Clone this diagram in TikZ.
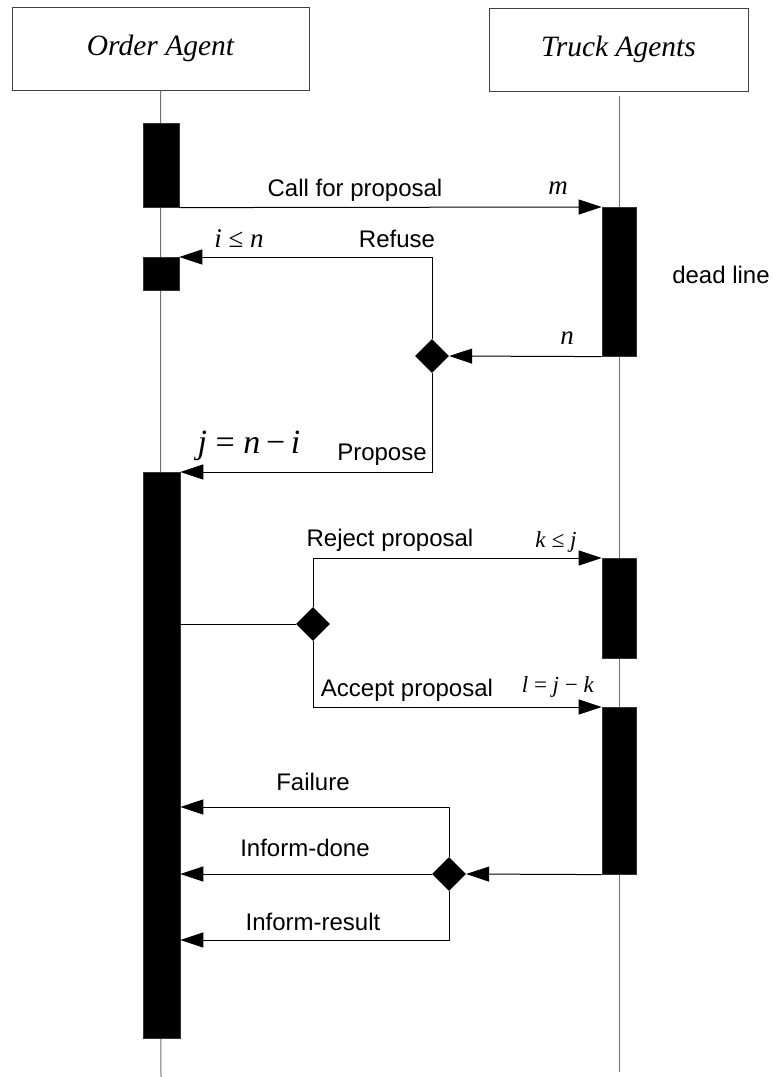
\documentclass[tikz,border=0pt]{standalone}
\usepackage{fontspec}
\setmainfont{Liberation Serif}
\setsansfont{Liberation Sans}
\usetikzlibrary{arrows.meta,shapes.geometric}

\begin{document}
\begin{tikzpicture}[x=1pt,y=-1pt,
  agentbox/.style={draw=black!75, line width=1pt, minimum height=83pt, inner sep=0pt,
    font=\fontsize{29.5}{34}\selectfont\itshape},
  lifeline/.style={draw=black!55, line width=1pt},
  act/.style={draw=black!80, fill=black, line width=0.6pt, inner sep=0pt},
  decision/.style={shape=diamond, fill=black, inner sep=0pt, minimum width=34pt, minimum height=34pt},
  msg/.style={draw=black, line width=1pt, -{Triangle[length=23pt,width=15pt]}},
  plain/.style={draw=black, line width=1pt},
  lbl/.style={font=\sffamily\fontsize{24}{28}\selectfont, inner sep=0pt},
  mlbl/.style={font=\fontsize{27}{31}\selectfont, inner sep=0pt},
  slbl/.style={font=\fontsize{23}{27}\selectfont, inner sep=0pt},
  blbl/.style={font=\fontsize{34}{39}\selectfont, inner sep=0pt}]

\useasboundingbox (0,0) rectangle (773,1077);

% agents
\node[agentbox, minimum width=297pt] (order) at (160.5,48.5) {Order Agent};
\node[agentbox, minimum width=259pt] (truck) at (618.5,49.5) {Truck Agents};

% lifelines
\coordinate (oend) at (161,1077);
\coordinate (tstart) at (619,96);
\coordinate (tend) at (619,1072);
\draw[lifeline] (order.south) -- (oend);
\draw[lifeline] (tstart) -- (tend);

% activations of the order agent
\node[act, minimum width=36pt, minimum height=84pt, anchor=north] (oa1) at (161,123) {};
\node[act, minimum width=36pt, minimum height=33pt, anchor=north] (oa2) at (161,257) {};
\node[act, minimum width=37pt, minimum height=566pt, anchor=north] (oa3) at (161.5,472) {};

% activations of the truck agents
\node[act, minimum width=34pt, minimum height=149pt, anchor=north] (ta1) at (619,207) {};
\node[act, minimum width=34pt, minimum height=100pt, anchor=north] (ta2) at (619,558) {};
\node[act, minimum width=34pt, minimum height=167pt, anchor=north] (ta3) at (619,707) {};

% decisions
\node[decision] (d1) at (432,356) {};
\node[decision] (d2) at (313,624) {};
\node[decision] (d3) at (449,874) {};

% call for proposal
\draw[msg] (oa1.south east) -- (ta1.north west);
\node[lbl] (lcall) at (355,190) {Call for proposal};
\node[mlbl] (lm) at (558,188) {\textit{m}};

% answers before the dead line
\draw[msg] (ta1.south west) -- (d1.east);
\node[mlbl] (ln) at (567,338) {\textit{n}};
\node[lbl] (ldead) at (721,275) {dead line};

\draw[msg] (d1.north) |- (oa2.north east);
\node[lbl] (lrefuse) at (397,239) {Refuse};
\node[mlbl] (lin) at (239,239) {\textit{i} ≤ \textit{n}};

\draw[msg] (d1.south) |- (oa3.north east);
\node[lbl] (lpropose) at (382,455) {Propose};
\node[blbl] (ljni) at (249,446) {\textit{j} = \textit{n}\,−\,\textit{i}};

% reject / accept
\draw[plain] (d2.west -| oa3.east) -- (d2.west);
\draw[msg] (d2.north) |- (ta2.north west);
\node[lbl] (lreject) at (390,540) {Reject proposal};
\node[slbl] (lkj) at (556,542) {\textit{k} ≤ \textit{j}};

\draw[msg] (d2.south) |- (ta3.north west);
\node[lbl] (laccept) at (407,690) {Accept proposal};
\node[slbl] (lljk) at (558,687) {\textit{l} = \textit{j} − \textit{k}};

% results
\draw[msg] (ta3.south west) -- (d3.east);
\coordinate (fl) at (449,807);
\coordinate (rs) at (449,940);
\draw[msg] (d3.north) -- (fl) -- (fl -| oa3.east);
\draw[msg] (d3.west) -- (d3.west -| oa3.east);
\draw[msg] (d3.south) -- (rs) -- (rs -| oa3.east);
\node[lbl] (lfail) at (313,782) {Failure};
\node[lbl] (ldone) at (305,848) {Inform-done};
\node[lbl] (lres) at (313,922) {Inform-result};

\end{tikzpicture}
\end{document}
